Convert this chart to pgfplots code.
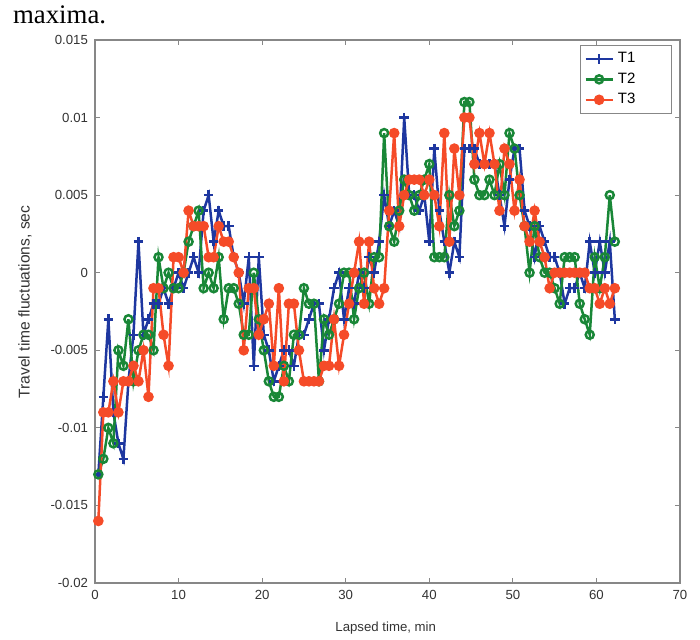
\documentclass[border=0pt]{standalone}
\usepackage{fontspec}
\setmainfont{Liberation Sans}
\newfontfamily\bodyserif{Liberation Serif}
\usepackage{pgfplots}
\usepackage{pgfplotstable}
\pgfplotsset{compat=1.18}

\definecolor{tblue}{RGB}{30,55,160}
\definecolor{tgreen}{RGB}{25,135,55}
\definecolor{tred}{RGB}{245,75,40}
\definecolor{frame}{RGB}{135,135,135}

% travel time fluctuations (sec) for the three paths
\pgfplotstableread{
x    t1     t2     t3
0.4  -0.013 -0.013 -0.016
1.0  -0.008 -0.012 -0.009
1.6  -0.003 -0.010 -0.009
2.2  -0.009 -0.011 -0.007
2.8  -0.011 -0.005 -0.009
3.4  -0.012 -0.006 -0.007
4.0  -0.007 -0.003 -0.007
4.6  -0.004 -0.007 -0.006
5.2  0.002  -0.005 -0.007
5.8  -0.004 -0.004 -0.005
6.4  -0.003 -0.004 -0.008
7.0  -0.002 -0.005 -0.001
7.6  -0.002 0.001  -0.001
8.2  -0.001 -0.001 -0.004
8.8  -0.002 0.000  -0.006
9.4  -0.001 -0.001 0.001
10.0 0.000  -0.001 0.001
10.6 -0.001 0.000  0.000
11.2 0.000  0.002  0.004
11.8 0.001  0.003  0.003
12.4 0.000  0.004  0.003
13.0 0.004  -0.001 0.003
13.6 0.005  0.000  0.001
14.2 0.002  -0.001 0.001
14.8 0.004  0.001  0.003
15.4 0.003  -0.003 0.002
16.0 0.003  -0.001 0.002
16.6 0.001  -0.001 0.001
17.2 0.000  -0.002 0.000
17.8 -0.002 -0.004 -0.005
18.4 0.001  -0.004 -0.001
19.0 -0.006 0.000  -0.001
19.6 0.001  -0.003 -0.004
20.2 -0.004 -0.005 -0.003
20.8 -0.005 -0.007 -0.002
21.4 -0.007 -0.008 -0.006
22.0 -0.006 -0.008 -0.001
22.6 -0.005 -0.006 -0.007
23.2 -0.005 -0.007 -0.002
23.8 -0.006 -0.004 -0.002
24.4 -0.004 -0.004 -0.005
25.0 -0.004 -0.001 -0.007
25.6 -0.003 -0.002 -0.007
26.2 -0.002 -0.002 -0.007
26.8 -0.002 -0.007 -0.007
27.4 -0.005 -0.003 -0.006
28.0 -0.003 -0.004 -0.006
28.6 -0.001 -0.003 -0.003
29.2 0.000  -0.002 -0.006
29.8 -0.003 0.000  -0.004
30.4 -0.001 0.000  -0.002
31.0 -0.002 -0.003 0.000
31.6 0.000  -0.001 0.002
32.2 -0.001 0.000  -0.002
32.8 0.001  -0.002 0.002
33.4 0.000  0.001  -0.001
34.0 0.002  0.001  -0.002
34.6 0.005  0.009  -0.001
35.2 0.003  0.003  0.004
35.8 0.004  0.002  0.009
36.4 0.003  0.004  0.003
37.0 0.010  0.006  0.005
37.6 0.005  0.005  0.006
38.2 0.005  0.004  0.006
38.8 0.004  0.005  0.006
39.4 0.005  0.006  0.005
40.0 0.002  0.007  0.006
40.6 0.008  0.001  0.005
41.2 0.004  0.001  0.003
41.8 0.002  0.001  0.009
42.4 0.000  0.005  0.002
43.0 0.002  0.003  0.008
43.6 0.001  0.004  0.005
44.2 0.008  0.011  0.010
44.8 0.008  0.011  0.010
45.4 0.008  0.006  0.007
46.0 0.007  0.005  0.009
46.6 0.007  0.005  0.007
47.2 0.007  0.006  0.009
47.8 0.007  0.005  0.007
48.4 0.005  0.007  0.004
49.0 0.003  0.005  0.008
49.6 0.006  0.009  0.007
50.2 0.008  0.008  0.004
50.8 0.008  0.005  0.006
51.4 0.004  0.003  0.003
52.0 0.003  0.000  0.002
52.6 0.001  0.003  0.004
53.2 0.003  0.001  0.002
53.8 0.002  0.000  0.001
54.4 0.001  0.000  -0.001
55.0 0.001  -0.001 0.000
55.6 0.000  -0.002 0.000
56.2 -0.002 0.001  0.000
56.8 -0.001 0.001  0.000
57.4 -0.001 0.001  0.000
58.0 0.000  -0.002 0.000
58.6 -0.001 -0.003 0.000
59.2 0.002  -0.004 -0.001
59.8 0.000  0.001  -0.001
60.4 0.002  -0.001 -0.002
61.0 0.000  0.001  -0.001
61.6 0.002  0.005  -0.002
62.2 -0.003 0.002  -0.001
}\traveldata

\begin{document}
\begin{tikzpicture}
  % page frame: 1 px of the scan = 0.5pt
  \useasboundingbox (-47.5pt,-28.5pt) rectangle (302.5pt,291.5pt);
  \node[anchor=base west, font=\bodyserif\fontsize{13.4}{16}\selectfont]
    at (-44.5pt,279.5pt) {maxima.};
  \begin{axis}[
      at={(0,0)}, anchor=south west,
      scale only axis,
      width=292.5pt, height=271.5pt,
      font=\fontsize{6.6}{7.5}\selectfont,
      xmin=0, xmax=70, ymin=-0.02, ymax=0.015,
      xtick={0,10,...,70},
      ytick={-0.02,-0.015,-0.01,-0.005,0,0.005,0.01,0.015},
      scaled y ticks=false,
      yticklabel style={/pgf/number format/fixed, /pgf/number format/precision=3},
      /pgf/number format/assume math mode=true,
      tick align=inside,
      major tick length=2.5pt,
      axis line style={draw=frame, line width=0.75pt},
      every tick/.style={draw=frame, line width=0.6pt},
      tick label style={text=black!80},
      xlabel={Lapsed time, min},
      ylabel={Travel time fluctuations, sec},
      every axis x label/.style={at={(axis description cs:0.497,-0.0902)}, anchor=base, text=black!80},
      every axis y label/.style={at={(axis description cs:-0.1197,0.5175)}, rotate=90, anchor=center,
        font=\fontsize{7.8}{9}\selectfont, text=black!80},
      legend cell align=left,
      legend style={at={(0.986,0.991)}, anchor=north east, draw=frame,
        font=\fontsize{7.5}{8.5}\selectfont, inner xsep=2pt, inner ysep=1.5pt, row sep=-0.5pt},
      legend image code/.code={
        \draw[mark repeat=2, mark phase=2] plot coordinates {(0pt,0pt) (6.75pt,0pt) (13.5pt,0pt)};
      },
      every axis plot/.append style={line width=1.25pt, mark options={solid}},
    ]
    \addplot[color=tblue, mark=+, mark size=2.4pt] table[x=x, y=t1] {\traveldata};
    \addlegendentry{T1\hspace*{14pt}}
    \addplot[color=tgreen, mark=o, mark size=2pt] table[x=x, y=t2] {\traveldata};
    \addlegendentry{T2\hspace*{14pt}}
    \addplot[color=tred, mark=*, mark size=2pt] table[x=x, y=t3] {\traveldata};
    \addlegendentry{T3\hspace*{14pt}}
  \end{axis}
\end{tikzpicture}
\end{document}
